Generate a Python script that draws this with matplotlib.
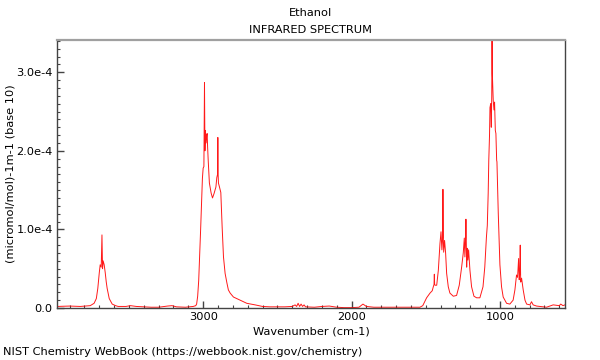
import matplotlib
matplotlib.use("Agg")
import matplotlib.pyplot as plt
from matplotlib.ticker import MultipleLocator, FuncFormatter

# wavenumber (cm-1) and absorbance (units of 1e-4)
wavenumber = [
    3983, 3900, 3828, 3761, 3735, 3720, 3710, 3700, 3694, 3687, 3682, 3678,
    3674, 3667, 3660, 3653, 3647, 3633, 3613, 3590, 3573, 3520, 3490, 3450,
    3400, 3350, 3300, 3240, 3210, 3180, 3120, 3067, 3050, 3044, 3037, 3030,
    3024, 3017, 3010, 3005, 3000, 2995, 2991, 2988, 2985, 2980, 2976, 2973,
    2970, 2966, 2958, 2946, 2937, 2926, 2914, 2908, 2903, 2901, 2899, 2897,
    2890, 2881, 2872, 2863, 2852, 2840, 2830, 2818, 2796, 2751, 2706, 2650,
    2600, 2550, 2450, 2400, 2380, 2370, 2360, 2350, 2340, 2330, 2320, 2310,
    2250, 2200, 2150, 2100, 2050, 2000, 1950, 1923, 1900, 1850, 1700, 1600,
    1539, 1520, 1494, 1471, 1456, 1449, 1444, 1442, 1440, 1437, 1426, 1415,
    1404, 1397, 1391, 1386, 1384, 1381, 1379, 1373, 1366, 1359, 1348, 1337,
    1314, 1292, 1274, 1258, 1247, 1240, 1236, 1231, 1229, 1226, 1224, 1220,
    1216, 1211, 1202, 1191, 1175, 1157, 1135, 1114, 1102, 1091, 1085, 1079,
    1075, 1070, 1067, 1062, 1058, 1055, 1053, 1051, 1049, 1045, 1040, 1036,
    1031, 1027, 1022, 1020, 1015, 1011, 1000, 989, 978, 955, 933, 911,
    899, 888, 881, 874, 870, 866, 863, 860, 854, 843, 831, 820,
    798, 787, 776, 753, 686, 641, 600, 590, 575, 562,
]
absorbance = [
    0.02, 0.025, 0.02, 0.03, 0.06, 0.12, 0.25, 0.45, 0.55, 0.52, 0.93, 0.50,
    0.60, 0.55, 0.45, 0.33, 0.25, 0.12, 0.05, 0.03, 0.02, 0.02, 0.03, 0.02,
    0.015, 0.01, 0.01, 0.025, 0.03, 0.015, 0.01, 0.02, 0.03, 0.05, 0.15, 0.35,
    0.65, 1.0, 1.4, 1.65, 1.78, 1.80, 2.87, 2.0, 2.26, 2.10, 2.20, 2.22,
    2.05, 1.88, 1.59, 1.46, 1.40, 1.46, 1.54, 1.66, 1.70, 2.17, 1.70, 1.59,
    1.54, 1.47, 1.03, 0.65, 0.44, 0.32, 0.23, 0.19, 0.14, 0.10, 0.06, 0.04,
    0.02, 0.015, 0.015, 0.02, 0.04, 0.02, 0.06, 0.02, 0.05, 0.02, 0.04, 0.015,
    0.01, 0.02, 0.025, 0.01, 0.005, 0.005, 0.01, 0.05, 0.02, 0.01, 0.01, 0.01,
    0.01, 0.03, 0.13, 0.19, 0.22, 0.27, 0.30, 0.43, 0.30, 0.29, 0.29, 0.48,
    0.82, 0.97, 0.74, 0.90, 1.51, 0.85, 0.71, 0.86, 0.70, 0.44, 0.27, 0.19,
    0.15, 0.16, 0.29, 0.52, 0.70, 0.89, 0.65, 0.90, 1.13, 0.80, 0.52, 0.76,
    0.61, 0.74, 0.48, 0.27, 0.15, 0.13, 0.13, 0.27, 0.52, 0.90, 1.05, 1.46,
    1.88, 2.20, 2.55, 2.60, 2.30, 2.70, 3.45, 2.98, 2.86, 2.64, 2.52, 2.62,
    2.26, 2.22, 1.88, 1.86, 1.50, 1.20, 0.55, 0.27, 0.14, 0.06, 0.05, 0.10,
    0.23, 0.42, 0.39, 0.63, 0.36, 0.45, 0.80, 0.33, 0.38, 0.23, 0.10, 0.05,
    0.04, 0.08, 0.04, 0.025, 0.01, 0.04, 0.03, 0.05, 0.03, 0.04,
]
absorbance = [a * 1e-4 for a in absorbance]

plt.rcParams["font.family"] = "DejaVu Sans"
plt.rcParams["font.size"] = 8.2

fig = plt.figure(figsize=(6, 3.6), dpi=100)
ax = fig.add_axes([0.095, 0.1444, 0.847, 0.7445])

ax.plot(wavenumber, absorbance, color="red", linewidth=0.7, alpha=0.9)

ax.set_xlim(3985, 560)
ax.set_ylim(0, 3.41e-4)

ax.xaxis.set_major_locator(MultipleLocator(1000))
ax.xaxis.set_minor_locator(MultipleLocator(100))
ax.yaxis.set_major_locator(MultipleLocator(1e-4))
ax.yaxis.set_minor_locator(MultipleLocator(1e-5))
ax.yaxis.set_major_formatter(
    FuncFormatter(lambda v, p: "0.0" if abs(v) < 1e-12 else "%.1fe-4" % (v / 1e-4))
)
ax.tick_params(which="major", direction="in", length=5, width=1, color="#444444",
               top=False, right=False, pad=3)
ax.tick_params(which="minor", direction="in", length=2.5, width=0.8, color="#444444",
               top=False, right=False)

for side in ["left", "bottom", "right"]:
    ax.spines[side].set_color("#444444")
    ax.spines[side].set_linewidth(1.0)
ax.spines["top"].set_color("#a0a0a0")
ax.spines["top"].set_linewidth(1.6)

ax.set_xlabel("Wavenumber (cm-1)")
ax.set_ylabel("(micromol/mol)-1m-1 (base 10)")
ax.xaxis.set_label_coords(0.5, -0.068)
ax.yaxis.set_label_coords(-0.081, 0.5)

fig.text(0.518, 0.965, "Ethanol", ha="center", va="center")
fig.text(0.518, 0.917, "INFRARED SPECTRUM", ha="center", va="center")
fig.text(0.005, 0.022, "NIST Chemistry WebBook (https://webbook.nist.gov/chemistry)",
         ha="left", va="center")

fig.savefig("out.png", dpi=100)
